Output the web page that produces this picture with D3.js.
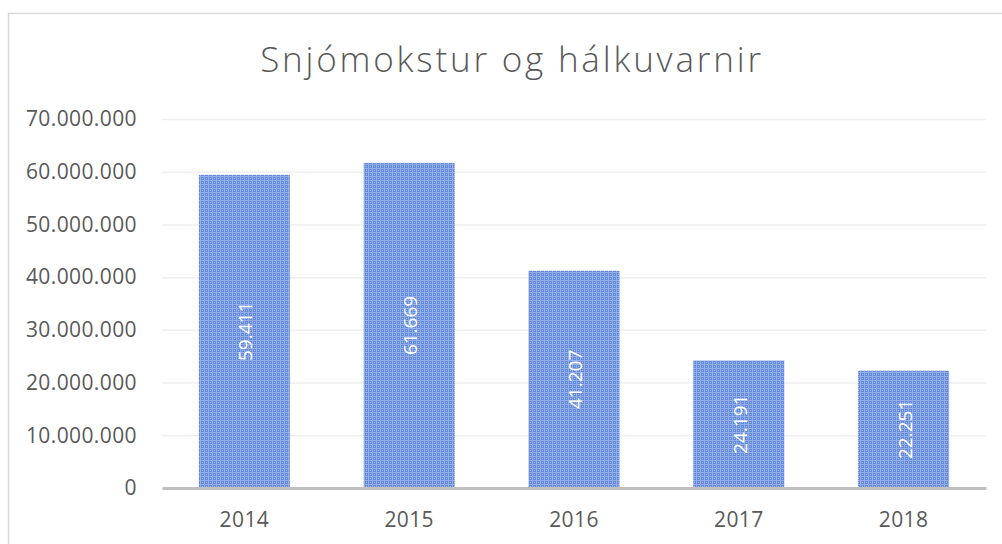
<!DOCTYPE html>
<html><head><meta charset="utf-8">
<script src="https://cdn.jsdelivr.net/npm/d3@7"></script>
<style>body{margin:0;background:#fff;}svg{display:block;}</style>
</head><body>
<script>
const title = "Snjómokstur og hálkuvarnir";
const categories = ["2014","2015","2016","2017","2018"];
const values = [59411000, 61669000, 41207000, 24191000, 22251000];
const labels = ["59.411","61.669","41.207","24.191","22.251"];
const yTicks = [0,10000000,20000000,30000000,40000000,50000000,60000000,70000000];

const W=1002,H=544;
const svg=d3.select("body").append("svg").attr("width",W).attr("height",H);
const defs=svg.append("defs");
const pat=defs.append("pattern").attr("id","grid").attr("patternUnits","userSpaceOnUse").attr("width",4).attr("height",4);
pat.append("rect").attr("width",4).attr("height",4).attr("fill","#628ad9");
pat.append("rect").attr("x",0).attr("y",0).attr("width",4).attr("height",1).attr("fill","#93aeea");
pat.append("rect").attr("x",0).attr("y",0).attr("width",1).attr("height",4).attr("fill","#93aeea");
pat.append("rect").attr("x",2).attr("y",2).attr("width",1).attr("height",1).attr("fill","#a9bff0");

// chart frame
svg.append("rect").attr("x",8.5).attr("y",13.5).attr("width",1100).attr("height",600)
  .attr("fill","none").attr("stroke","#d9d9d9").attr("stroke-width",1.5);

const m={l:162,r:986,t:119,b:488};
const x=d3.scaleBand().domain(categories).range([m.l,m.r]).paddingInner(0.448).paddingOuter(0.224);
const y=d3.scaleLinear().domain([0,70000000]).range([m.b,m.t]);

svg.append("text").attr("x",512).attr("y",72).attr("text-anchor","middle")
  .attr("font-family","'Open Sans', sans-serif").attr("font-weight",300).attr("font-size",35)
  .attr("letter-spacing",2.8).attr("fill","#595959").text(title);

const fmt=d=>d3.format(",")(d).replace(/,/g,".");
const yAxis=svg.append("g").attr("transform",`translate(${m.l},0)`)
  .call(d3.axisLeft(y).tickValues(yTicks).tickSize(-(m.r-m.l)).tickFormat(fmt).tickPadding(25));
yAxis.select(".domain").remove();
yAxis.selectAll(".tick line").attr("stroke","#efefef").attr("stroke-width",1.5);
yAxis.selectAll(".tick text").attr("font-family","'Open Sans', sans-serif").attr("font-size",21)
  .attr("letter-spacing",0.4).attr("fill","#595959");

svg.selectAll("rect.bar").data(values).enter().append("rect").attr("class","bar")
  .attr("x",(d,i)=>x(categories[i])).attr("width",x.bandwidth())
  .attr("y",d=>y(d)).attr("height",d=>y(0)-y(d)).attr("fill","url(#grid)");

const xAxis=svg.append("g").attr("transform",`translate(0,${m.b})`)
  .call(d3.axisBottom(x).tickSize(0).tickPadding(24));
xAxis.select(".domain").attr("stroke","#bfbfbf").attr("stroke-width",3);
xAxis.selectAll(".tick text").attr("font-family","'Open Sans', sans-serif").attr("font-size",21)
  .attr("letter-spacing",0.4).attr("fill","#595959");

svg.selectAll("text.lbl").data(values).enter().append("text").attr("class","lbl")
  .attr("transform",(d,i)=>`translate(${x(categories[i])+x.bandwidth()/2+8},${(y(d)+y(0))/2}) rotate(-90)`)
  .attr("text-anchor","middle").attr("font-family","'Open Sans', sans-serif").attr("font-size",19)
  .attr("fill","#ffffff").text((d,i)=>labels[i]);
</script>
</body></html>
